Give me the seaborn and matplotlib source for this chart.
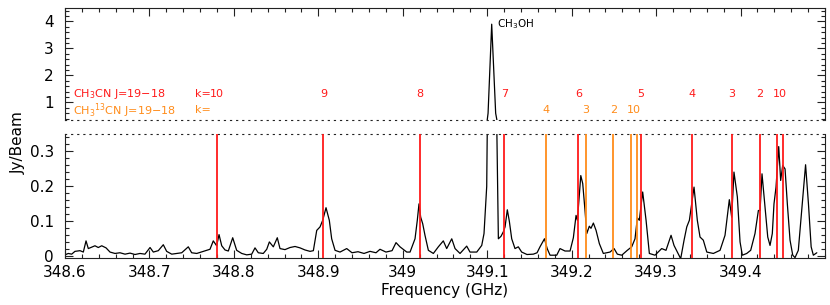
import matplotlib
matplotlib.use("Agg")
import matplotlib.pyplot as plt
from matplotlib.ticker import MultipleLocator, FixedLocator, FuncFormatter
import seaborn as sns

# spectrum (GHz, Jy/Beam)
freq_ghz = [
    348.6000, 348.6039, 348.6079, 348.6118, 348.6178, 348.6217, 348.6249, 348.6276,
    348.6316, 348.6355, 348.6394, 348.6435, 348.6486, 348.6533, 348.6592, 348.6651,
    348.6711, 348.6770, 348.6829, 348.6888, 348.6947, 348.7007, 348.7046, 348.7105,
    348.7164, 348.7204, 348.7264, 348.7323, 348.7382, 348.7460, 348.7500, 348.7560,
    348.7638, 348.7717, 348.7756, 348.7796, 348.7824, 348.7856, 348.7895, 348.7934,
    348.7986, 348.8033, 348.8093, 348.8152, 348.8211, 348.8250, 348.8289, 348.8348,
    348.8389, 348.8420, 348.8467, 348.8514, 348.8546, 348.8605, 348.8665, 348.8724,
    348.8783, 348.8842, 348.8902, 348.8941, 348.8981, 348.9020, 348.9052, 348.9091,
    348.9130, 348.9158, 348.9198, 348.9257, 348.9336, 348.9399, 348.9470, 348.9541,
    348.9612, 348.9683, 348.9730, 348.9801, 348.9873, 348.9920, 348.9967, 349.0047,
    349.0086, 349.0145, 349.0172, 349.0192, 349.0212, 349.0236, 349.0263, 349.0303,
    349.0362, 349.0421, 349.0480, 349.0520, 349.0580, 349.0619, 349.0678, 349.0757,
    349.0796, 349.0876, 349.0935, 349.0962, 349.0994, 349.1010, 349.1053, 349.1100,
    349.1132, 349.1163, 349.1191, 349.1211, 349.1238, 349.1262, 349.1290, 349.1329,
    349.1368, 349.1408, 349.1471, 349.1546, 349.1590, 349.1625, 349.1678, 349.1710,
    349.1744, 349.1823, 349.1862, 349.1921, 349.1981, 349.2020, 349.2052, 349.2068,
    349.2108, 349.2131, 349.2158, 349.2179, 349.2209, 349.2229, 349.2257, 349.2289,
    349.2328, 349.2375, 349.2454, 349.2502, 349.2541, 349.2593, 349.2659, 349.2711,
    349.2750, 349.2778, 349.2801, 349.2841, 349.2881, 349.2920, 349.2987, 349.3066,
    349.3117, 349.3177, 349.3212, 349.3251, 349.3291, 349.3331, 349.3363, 349.3394,
    349.3449, 349.3488, 349.3520, 349.3559, 349.3600, 349.3678, 349.3757, 349.3816,
    349.3867, 349.3895, 349.3922, 349.3962, 349.3994, 349.4021, 349.4073, 349.4120,
    349.4171, 349.4211, 349.4231, 349.4254, 349.4290, 349.4322, 349.4349, 349.4376,
    349.4396, 349.4420, 349.4452, 349.4475, 349.4499, 349.4527, 349.4554, 349.4586,
    349.4618, 349.4645, 349.4684, 349.4724, 349.4770, 349.4804, 349.4836, 349.4862,
    349.4903,
]
flux_jy = [
    0.004, 0.008, 0.006, 0.014, 0.016, 0.012, 0.044, 0.022,
    0.026, 0.030, 0.025, 0.030, 0.024, 0.012, 0.008, 0.010,
    0.006, 0.009, 0.005, 0.008, 0.006, 0.025, 0.012, 0.016,
    0.033, 0.014, 0.006, 0.008, 0.010, 0.027, 0.010, 0.008,
    0.014, 0.020, 0.044, 0.030, 0.062, 0.030, 0.018, 0.015,
    0.053, 0.017, 0.008, 0.004, 0.006, 0.024, 0.010, 0.008,
    0.020, 0.041, 0.027, 0.053, 0.022, 0.019, 0.025, 0.028,
    0.024, 0.018, 0.014, 0.016, 0.074, 0.084, 0.103, 0.139,
    0.103, 0.050, 0.017, 0.012, 0.022, 0.010, 0.013, 0.008,
    0.014, 0.010, 0.020, 0.012, 0.016, 0.039, 0.027, 0.012,
    0.012, 0.050, 0.103, 0.150, 0.112, 0.093, 0.060, 0.017,
    0.008, 0.027, 0.044, 0.022, 0.050, 0.022, 0.008, 0.029,
    0.012, 0.012, 0.031, 0.065, 0.200, 0.600, 3.900, 0.600,
    0.050, 0.057, 0.070, 0.084, 0.133, 0.100, 0.050, 0.022,
    0.027, 0.012, 0.005, 0.006, 0.010, 0.027, 0.050, 0.022,
    0.003, 0.003, 0.022, 0.015, 0.015, 0.053, 0.117, 0.103,
    0.231, 0.208, 0.131, 0.065, 0.086, 0.080, 0.095, 0.074,
    0.036, 0.008, 0.012, 0.022, 0.006, 0.003, 0.017, 0.027,
    0.050, 0.110, 0.103, 0.184, 0.103, 0.008, 0.003, 0.022,
    0.017, 0.060, 0.031, 0.012, -0.007, 0.046, 0.084, 0.103,
    0.198, 0.103, 0.055, 0.046, 0.012, 0.008, 0.017, 0.060,
    0.162, 0.112, 0.241, 0.170, 0.041, 0.003, 0.008, 0.017,
    0.065, 0.131, 0.131, 0.236, 0.141, 0.055, 0.031, 0.065,
    0.150, 0.198, 0.314, 0.217, 0.260, 0.250, 0.150, 0.046,
    0.003, -0.004, 0.017, 0.131, 0.262, 0.150, 0.027, 0.003,
    0.010,
]

# CH3CN J=19-18, k = 10 ... 0
ch3cn_k = [10, 9, 8, 7, 6, 5, 4, 3, 2, 1, 0]
ch3cn_freq = [348.7797, 348.9060, 349.0204, 349.1203, 349.2079, 349.2818,
              349.3422, 349.3895, 349.4231, 349.4436, 349.4499]
# CH3-13CN J=19-18, k = 4 ... 0
c13_k = [4, 3, 2, 1, 0]
c13_freq = [349.1693, 349.2166, 349.2494, 349.2699, 349.2770]

ch3oh_freq = 349.1053
ch3oh_peak = 3.90

RED = "#ff1a1a"
ORANGE = "#ff8c1a"

sns.set_style("ticks")
plt.rcParams["font.family"] = ["DejaVu Sans"]
plt.rcParams["mathtext.fontset"] = "dejavusans"
plt.rcParams["text.color"] = "black"
plt.rcParams["axes.labelcolor"] = "black"
plt.rcParams["xtick.color"] = "black"
plt.rcParams["ytick.color"] = "black"

fig = plt.figure(figsize=(8.3, 3.05), dpi=100)
left, width = 65 / 830, 760 / 830
ax_top = fig.add_axes([left, (305 - 120) / 305, width, 112 / 305])
ax_bot = fig.add_axes([left, (305 - 258) / 305, width, 124 / 305])

for ax in (ax_top, ax_bot):
    sns.lineplot(x=freq_ghz, y=flux_jy, ax=ax, color="black", lw=0.9,
                 estimator=None, sort=False)
    ax.set_xlim(348.6, 349.5)
    for s in ax.spines.values():
        s.set_linewidth(0.8)
        s.set_color("#222222")
    ax.xaxis.set_major_locator(FixedLocator([348.6, 348.7, 348.8, 348.9, 349.0,
                                             349.1, 349.2, 349.3, 349.4]))
    ax.xaxis.set_minor_locator(MultipleLocator(0.02))
    ax.tick_params(which="both", direction="in", width=0.8, color="#222222",
                   labelsize=11, labelcolor="black",
                   left=True, right=True, labelright=False)
    ax.tick_params(which="major", length=6)
    ax.tick_params(which="minor", length=3)
    ax.tick_params(axis="y", pad=8)

# broken axis edges drawn as dotted lines
ax_top.spines["bottom"].set_linestyle((0, (1, 4.5)))
ax_bot.spines["top"].set_linestyle((0, (1, 4.5)))

# upper panel: big CH3OH line
ax_top.set_ylim(0.35, 4.5)
ax_top.yaxis.set_major_locator(FixedLocator([1, 2, 3, 4]))
ax_top.yaxis.set_minor_locator(MultipleLocator(0.2))
ax_top.yaxis.set_major_formatter(FuncFormatter(lambda v, p: f"{v:.0f}"))
ax_top.tick_params(axis="x", which="both", top=True, bottom=False,
                   labelbottom=False, labeltop=False)

# lower panel: the weak lines
ax_bot.set_ylim(-0.005, 0.35)
ax_bot.yaxis.set_major_locator(FixedLocator([0, 0.1, 0.2, 0.3]))
ax_bot.yaxis.set_minor_locator(MultipleLocator(0.02))
ax_bot.yaxis.set_major_formatter(
    FuncFormatter(lambda v, p: "0" if abs(v) < 1e-9 else f"{v:.1f}"))
ax_bot.tick_params(axis="x", which="both", top=False, bottom=True, pad=5)
ax_bot.xaxis.set_major_formatter(FuncFormatter(lambda v, p: f"{v:g}"))
ax_bot.set_xlabel("Frequency (GHz)", fontsize=11, labelpad=2)

for f in ch3cn_freq:
    ax_bot.axvline(f, color=RED, lw=1.3, zorder=3)
for f in c13_freq:
    ax_bot.axvline(f, color=ORANGE, lw=1.3, zorder=3)

# line identifications in the upper panel
lab_kw = dict(fontsize=8, ha="center", va="center")
y_red, y_org = 1.30, 0.71
ax_top.text(348.6095, y_red, r"CH$_3$CN J=19$-$18", color=RED,
            fontsize=8, ha="left", va="center")
ax_top.text(348.6095, y_org, r"CH$_3$$^{13}$CN J=19$-$18", color=ORANGE,
            fontsize=8, ha="left", va="center")

for k, f in zip(ch3cn_k[:-2], ch3cn_freq[:-2]):
    ax_top.text(f, y_red, str(k), color=RED, **lab_kw)
ax_top.text(sum(ch3cn_freq[-2:]) / 2, y_red, "10", color=RED, **lab_kw)
for k, f in zip(c13_k[:-2], c13_freq[:-2]):
    ax_top.text(f, y_org, str(k), color=ORANGE, **lab_kw)
ax_top.text(sum(c13_freq[-2:]) / 2, y_org, "10", color=ORANGE, **lab_kw)

k_x = ch3cn_freq[0] - 0.0065
ax_top.text(k_x, y_red, "k=", color=RED, fontsize=8, ha="right", va="center")
ax_top.text(k_x, y_org, "k=", color=ORANGE, fontsize=8, ha="right", va="center")

ax_top.text(ch3oh_freq + 0.006, ch3oh_peak, r"CH$_3$OH", color="black",
            fontsize=7.5, ha="left", va="center")

fig.text(0.022, 1 - 143 / 305, "Jy/Beam", rotation=90, fontsize=11,
         ha="center", va="center")

fig.savefig("out.png", dpi=100)
